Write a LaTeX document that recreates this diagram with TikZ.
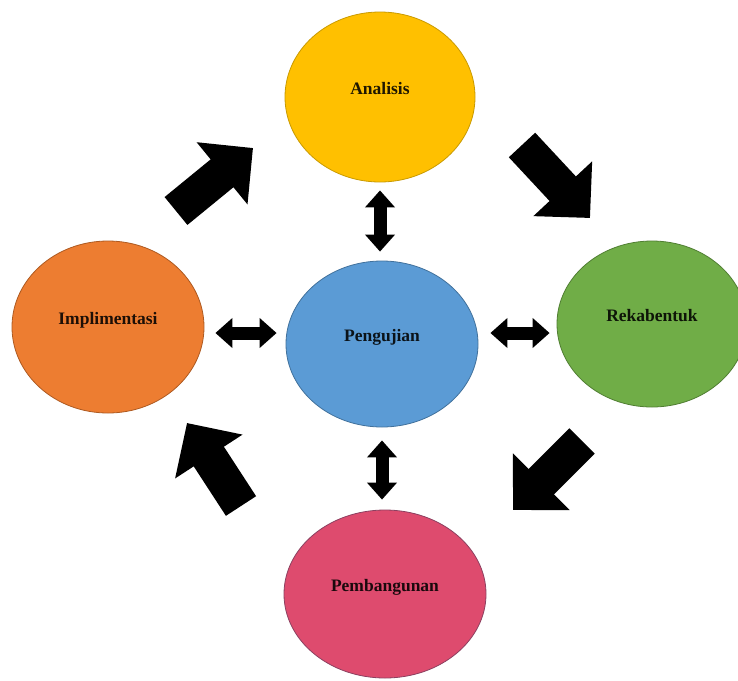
\documentclass[tikz,border=0pt]{standalone}
\usepackage{fontspec}
\setmainfont{Liberation Serif}
\usetikzlibrary{arrows.meta,shapes.geometric}
\definecolor{cAnalisis}{HTML}{FFC000}
\definecolor{eAnalisis}{HTML}{C99A00}
\definecolor{cPengujian}{HTML}{5B9BD5}
\definecolor{ePengujian}{HTML}{41719C}
\definecolor{cImpl}{HTML}{ED7D31}
\definecolor{eImpl}{HTML}{AE5A21}
\definecolor{cReka}{HTML}{70AD47}
\definecolor{eReka}{HTML}{507E32}
\definecolor{cBina}{HTML}{DE4B6E}
\definecolor{eBina}{HTML}{8C4060}

\begin{document}
\begin{tikzpicture}[x=1pt, y=-1pt,
    phase/.style 2 args={ellipse, fill=#1, draw=#2, line width=0.8pt,
      minimum width=192pt, minimum height=168pt,
      font=\bfseries\fontsize{17.5}{20}\selectfont, text=#1!12!black,
      text height=12pt, text depth=18pt},
    bigarrow/.style={line width=36pt, -{Triangle[length=40pt,width=78pt]}},
    dblarrow/.style={line width=13pt,
      {Triangle[length=17pt,width=29pt]}-{Triangle[length=17pt,width=29pt]}}]
    % page
    \clip (0,0) rectangle (738,680);
    \fill[white] (0,0) rectangle (738,680);

    % phases
    \node[phase={cAnalisis}{eAnalisis}, minimum width=190pt, minimum height=170pt] (analisis) at (380,97) {Analisis};
    \node[phase={cPengujian}{ePengujian}, minimum height=166pt] (pengujian) at (382,344) {Pengujian};
    \node[phase={cImpl}{eImpl}, minimum height=172pt] (implimentasi) at (108,327) {Implimentasi};
    \node[phase={cReka}{eReka}, minimum width=190pt, minimum height=166pt] (rekabentuk) at (652,324) {Rekabentuk};
    \node[phase={cBina}{eBina}, minimum width=202pt] (pembangunan) at (385,594) {Pembangunan};

    % cycle arrows
    \coordinate (ne tail) at (176,211);
    \coordinate (ne tip) at (253,148);
    \coordinate (se tail) at (522,145);
    \coordinate (se tip) at (590,218);
    \coordinate (sw tail) at (582,441);
    \coordinate (sw tip) at (513,510);
    \coordinate (nw tail) at (241,506);
    \coordinate (nw tip) at (187,423);
    \draw[bigarrow] (ne tail) -- (ne tip);
    \draw[bigarrow] (se tail) -- (se tip);
    \draw[bigarrow] (sw tail) -- (sw tip);
    \draw[bigarrow] (nw tail) -- (nw tip);

    % links to Pengujian
    \coordinate (row) at (0,333);
    \draw[dblarrow, shorten <=8pt, shorten >=9pt] (analisis.south) -- (analisis.south |- pengujian.north);
    \draw[dblarrow, shorten <=13pt, shorten >=10pt] (pengujian.south) -- (pengujian.south |- pembangunan.north);
    \draw[dblarrow, shorten <=11pt, shorten >=9pt] (implimentasi.east |- row) -- (pengujian.west |- row);
    \draw[dblarrow, shorten <=12pt, shorten >=7pt] (pengujian.east |- row) -- (rekabentuk.west |- row);
\end{tikzpicture}
\end{document}
